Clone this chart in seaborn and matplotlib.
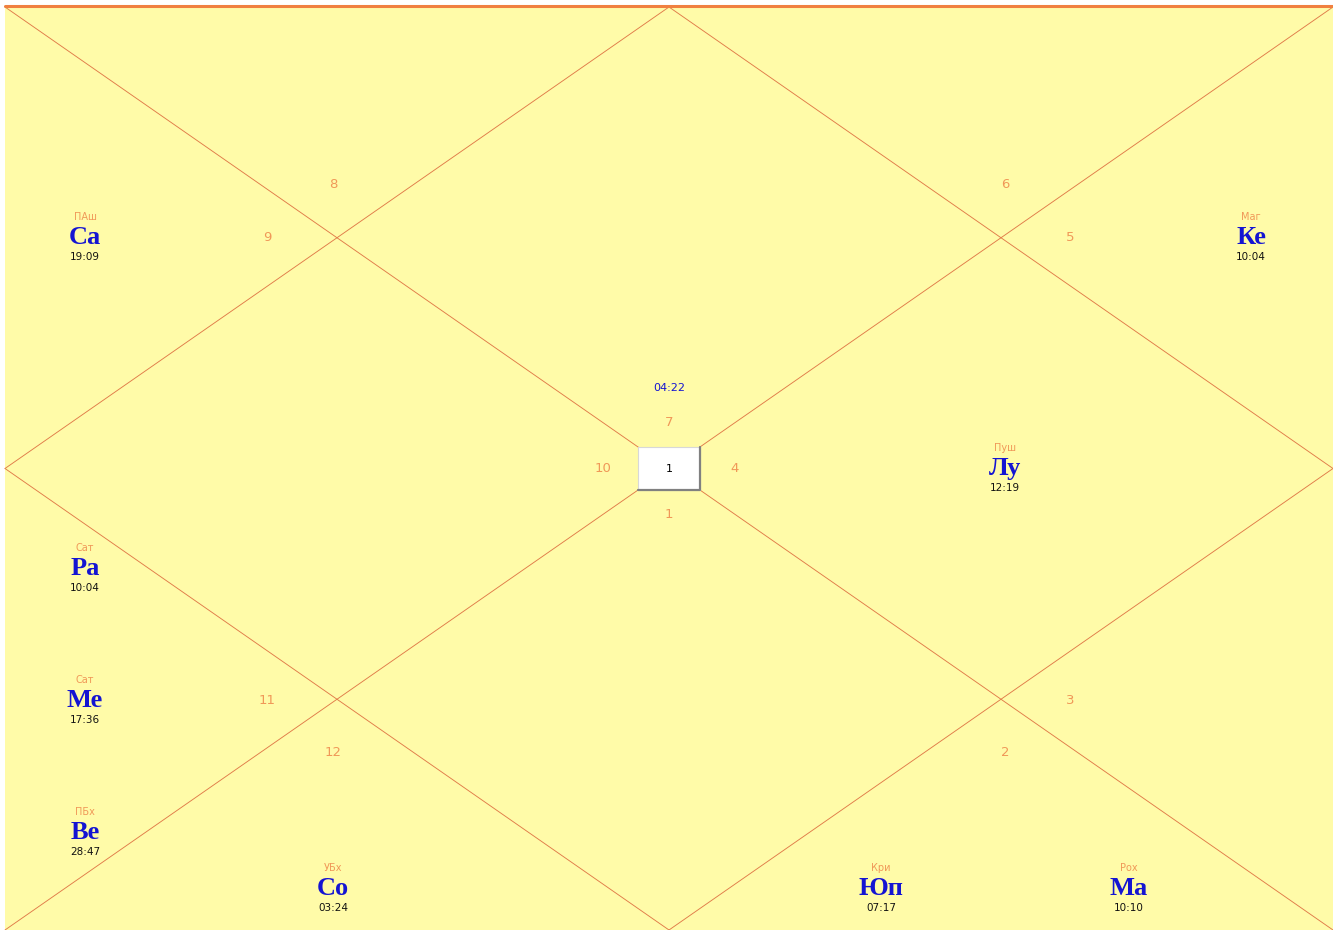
import pandas as pd
import matplotlib.pyplot as plt
import seaborn as sns
from matplotlib.patches import Rectangle

# ── data ────────────────────────────────────
house_nums = ['7', '10', '4', '1', '8', '9', '6', '5', '11', '12', '3', '2']
planets = ['Са', 'Ке', 'Лу', 'Ра', 'Ме', 'Ве', 'Со', 'Юп', 'Ма']
nakshatras = ['ПАш', 'Маг', 'Пуш', 'Сат', 'Сат', 'ПБх', 'УБх', 'Кри', 'Рох']
degrees = ['19:09', '10:04', '12:19', '10:04', '17:36', '28:47', '03:24', '07:17', '10:10']
asc_degree = '04:22'
center_label = '1'

# ── layout (pixels) ─────────────────────────
X0, X1, Y0, Y1 = 5, 1333, 7, 930
XM, YM = (X0 + X1) / 2, (Y0 + Y1) / 2
house_pos = [(669, 422), (603, 468), (735, 468), (669, 514),
             (333, 185), (267, 237), (1005, 185), (1070, 237),
             (267, 700), (333, 752), (1070, 700), (1005, 752)]
planet_pos = [(85, 237), (1251, 237), (1005, 468), (85, 568), (85, 700),
              (85, 832), (333, 888), (881, 888), (1129, 888)]

BG = '#FFFBA8'
LINE = '#E07A48'
ORANGE = '#F09858'
BLUE = '#1414D2'

sns.set_style('white')
plt.rcParams['font.family'] = ['DejaVu Sans']

fig = plt.figure(figsize=(13.33, 9.30), dpi=100)
ax = fig.add_axes([0, 0, 1, 1])

ax.add_patch(Rectangle((X0, Y0), X1 - X0, Y1 - Y0, facecolor=BG,
                       edgecolor='none', zorder=0))
ax.plot([X0, X1], [Y0 - 1, Y0 - 1], color='#F08040', linewidth=2.2, zorder=3)

# chart lines: two diagonals + inner diamond
segs = [
    [(X0, Y0), (X1, Y1)], [(X1, Y0), (X0, Y1)],
    [(XM, Y0), (X0, YM)], [(X0, YM), (XM, Y1)],
    [(XM, Y1), (X1, YM)], [(X1, YM), (XM, Y0)],
]
rows = []
for i, s in enumerate(segs):
    for (x, y) in s:
        rows.append({'seg': i, 'x': x, 'y': y})
df = pd.DataFrame(rows)
sns.lineplot(data=df, x='x', y='y', units='seg', estimator=None, sort=False,
             color=LINE, linewidth=0.65, ax=ax, zorder=2)
ax.set_xlim(0, 1333)
ax.set_ylim(930, 0)
ax.axis('off')

# center box
bx0, by0, bx1, by1 = 638, 447, 700, 490
ax.add_patch(Rectangle((bx0, by0), bx1 - bx0, by1 - by0, facecolor='white',
                       edgecolor='#D8D8D8', linewidth=0.8, zorder=4))
ax.plot([bx0, bx1, bx1], [by1, by1, by0], color='#808080', linewidth=1.6, zorder=5)
ax.text((bx0 + bx1) / 2, (by0 + by1) / 2, center_label, ha='center', va='center',
        fontsize=8, color='black', zorder=6)

for n, (x, y) in zip(house_nums, house_pos):
    ax.text(x, y, n, ha='center', va='center', fontsize=9.5, color=ORANGE)

ax.text(669, 388, asc_degree, ha='center', va='center', fontsize=8, color=BLUE)

for p, nk, dg, (x, y) in zip(planets, nakshatras, degrees, planet_pos):
    ax.text(x, y - 20, nk, ha='center', va='center', fontsize=7, color=ORANGE)
    ax.text(x, y, p, ha='center', va='center', fontsize=19, color=BLUE,
            fontweight='bold', family=['Liberation Serif', 'DejaVu Serif'])
    ax.text(x, y + 20, dg, ha='center', va='center', fontsize=7.5, color='#111111')

fig.savefig('out.png', dpi=100, facecolor='white')
